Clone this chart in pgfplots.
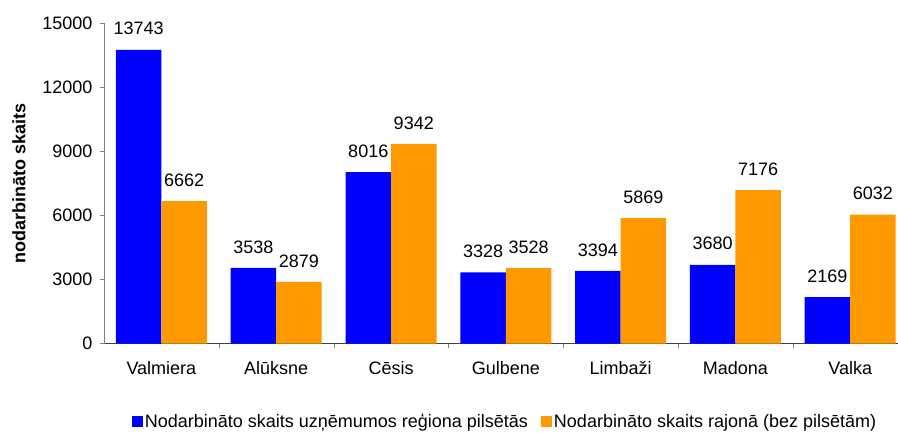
\documentclass[border=0pt]{standalone}
\usepackage{fontspec}
\setmainfont{Liberation Sans}
\usepackage{pgfplots}
\pgfplotsset{compat=1.18}
\definecolor{barblue}{RGB}{0,0,255}
\definecolor{barorange}{RGB}{255,153,0}
\begin{document}
\begin{tikzpicture}
\begin{axis}[
  at={(104pt,88.5pt)}, anchor=south west,
  scale only axis, width=794pt, height=320.5pt,
  ybar=0pt, bar width=45.5pt,
  xmin=-0.5, xmax=6.416, ymin=0, ymax=15000,
  enlargelimits=false,
  axis x line*=bottom, axis y line*=left,
  x axis line style={black!75, -}, y axis line style={gray, -},
  xtick={0,1,2,3,4,5,6},
  xticklabels={Valmiera,Alūksne,Cēsis,Gulbene,Limbaži,Madona,Valka},
  minor xtick={0.5,1.5,2.5,3.5,4.5,5.5},
  major x tick style={draw=none},
  minor x tick style={gray},
  minor tick length=4pt,
  ytick={0,3000,6000,9000,12000,15000},
  y tick style={gray},
  major tick length=4pt,
  tick align=outside,
  scaled y ticks=false,
  /pgf/number format/1000 sep={},
  /pgf/number format/assume math mode=true,
  tick label style={font=\fontsize{18}{21.6}\selectfont},
  xticklabel style={yshift=-10pt},
  yticklabel style={xshift=-4pt},
  ylabel={nodarbināto skaits},
  ylabel style={font=\fontsize{18}{21.6}\selectfont\bfseries, at={(axis description cs:-0.107,0.5)}, anchor=center},
  nodes near coords,
  nodes near coords style={font=\fontsize{18}{21.6}\selectfont, inner sep=0pt, anchor=south, yshift=14.5pt, /pgf/number format/assume math mode=true},
  legend columns=2,
  legend style={at={(axis description cs:0.505,-0.243)}, anchor=center, draw=none, fill=none,
    font=\fontsize{18}{21.6}\selectfont,
    /tikz/every even column/.append style={column sep=11pt}},
  legend image code/.code={\fill[#1] (0pt,-5.5pt) rectangle (11pt,5.5pt);},
]
\addplot[fill=barblue, draw=none] coordinates {(0,13743) (1,3538) (2,8016) (3,3328) (4,3394) (5,3680) (6,2169)};
\addplot[fill=barorange, draw=none] coordinates {(0,6662) (1,2879) (2,9342) (3,3528) (4,5869) (5,7176) (6,6032)};
\legend{Nodarbināto skaits uzņēmumos reģiona pilsētās, Nodarbināto skaits rajonā (bez pilsētām)}
\end{axis}
\pgfresetboundingbox
\path (0,0) rectangle (898pt,432pt);
\end{tikzpicture}
\end{document}
